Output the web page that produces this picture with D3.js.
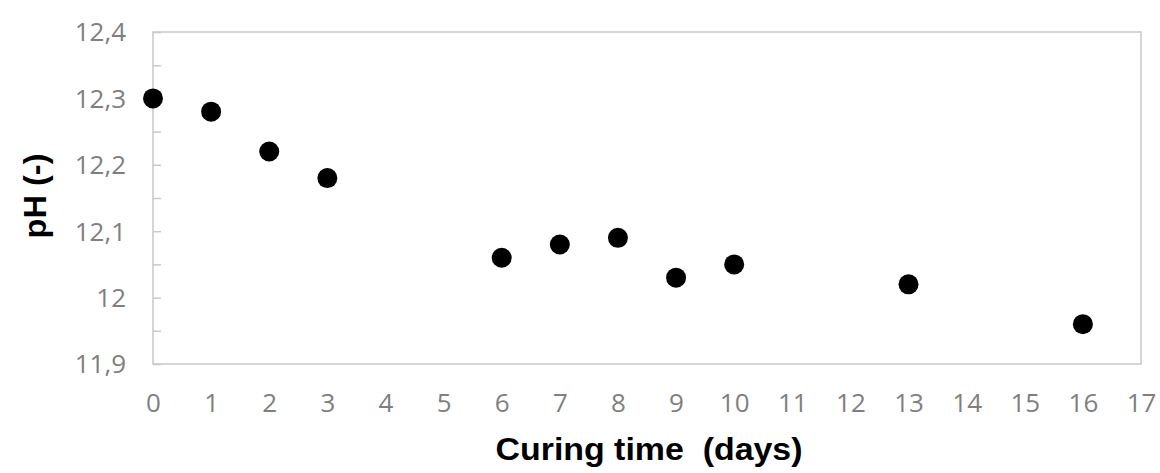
<!DOCTYPE html>
<html>
<head>
<meta charset="utf-8">
<script src="https://cdn.jsdelivr.net/npm/d3@7"></script>
<style>
  body { margin: 0; background: #fff; }
</style>
</head>
<body>
<div id="chart"></div>
<script>
// data
const days = [0, 1, 2, 3, 6, 7, 8, 9, 10, 13, 16];
const pH = [12.30, 12.28, 12.22, 12.18, 12.06, 12.08, 12.09, 12.03, 12.05, 12.02, 11.96];
const xTicks = d3.range(0, 18);
const yTicks = [11.9, 12.0, 12.1, 12.2, 12.3, 12.4];
const yMinor = d3.range(11.95, 12.4, 0.1);

const width = 1160, height = 473;
const margin = {top: 32, right: 19, bottom: 109, left: 153};

const svg = d3.select("#chart").append("svg")
  .attr("width", width)
  .attr("height", height);

const x = d3.scaleLinear([0, 17], [margin.left, width - margin.right]);
const y = d3.scaleLinear([11.9, 12.4], [height - margin.bottom, margin.top]);

const fmt = d => d3.format(".1f")(d).replace(".0", "").replace(".", ",");
const gridColor = "#c8c8c8";
const labelFont = "'Open Sans', 'Liberation Sans', sans-serif";

// plot box
svg.append("rect")
  .attr("x", x(0))
  .attr("y", y(12.4))
  .attr("width", x(17) - x(0))
  .attr("height", y(11.9) - y(12.4))
  .attr("fill", "none")
  .attr("stroke", gridColor)
  .attr("stroke-width", 1.5);

// y axis, ticks pointing in
svg.append("g")
  .attr("transform", `translate(${x(0)},0)`)
  .call(d3.axisRight(y).tickValues(yTicks.concat(yMinor)).tickSize(8).tickFormat(""))
  .call(g => g.select(".domain").remove())
  .call(g => g.selectAll(".tick line").attr("stroke", gridColor).attr("stroke-width", 1.5));

svg.append("g")
  .selectAll("text")
  .data(yTicks)
  .join("text")
    .attr("x", x(0) - 27)
    .attr("y", d => y(d))
    .attr("dy", "0.36em")
    .attr("text-anchor", "end")
    .attr("font-family", labelFont)
    .attr("font-size", 26)
    .attr("fill", "#7f7f7f")
    .text(fmt);

// x axis labels
svg.append("g")
  .attr("transform", `translate(0,${y(11.9)})`)
  .call(d3.axisBottom(x).tickValues(xTicks).tickSize(0).tickPadding(30).tickFormat(d3.format("d")))
  .call(g => g.select(".domain").remove())
  .call(g => g.selectAll(".tick text")
    .attr("font-family", labelFont)
    .attr("font-size", 26)
    .attr("fill", "#7f7f7f"));

// points
svg.append("g")
  .selectAll("circle")
  .data(days)
  .join("circle")
    .attr("cx", d => x(d))
    .attr("cy", (d, i) => y(pH[i]))
    .attr("r", 10)
    .attr("fill", "#000");

// axis titles
svg.append("text")
  .attr("x", 649)
  .attr("y", 460)
  .attr("text-anchor", "middle")
  .attr("font-family", "'Liberation Sans', Arial, sans-serif")
  .attr("font-weight", "bold")
  .attr("font-size", 31)
  .attr("textLength", 307)
  .attr("lengthAdjust", "spacingAndGlyphs")
  .style("white-space", "pre")
  .text("Curing time  (days)");

svg.append("text")
  .attr("transform", `translate(46,196) rotate(-90)`)
  .attr("text-anchor", "middle")
  .attr("font-family", "'Liberation Sans', Arial, sans-serif")
  .attr("font-weight", "bold")
  .attr("font-size", 31)
  .attr("textLength", 85)
  .attr("lengthAdjust", "spacingAndGlyphs")
  .text("pH (-)");
</script>
</body>
</html>
